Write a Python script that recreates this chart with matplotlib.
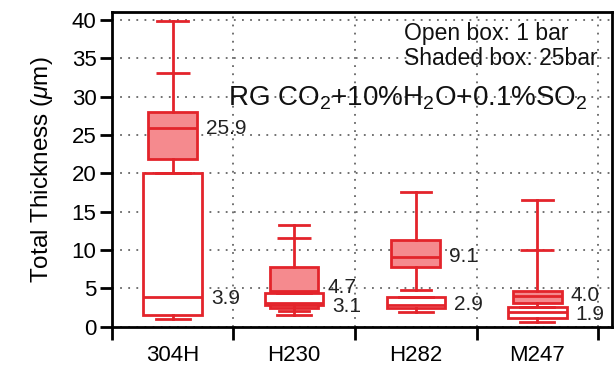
import matplotlib
matplotlib.use('Agg')
import matplotlib.pyplot as plt
import numpy as np

plt.rcParams['font.family'] = ['Liberation Sans', 'DejaVu Sans']
plt.rcParams['mathtext.fontset'] = 'custom'
plt.rcParams['mathtext.rm'] = 'Liberation Sans'
plt.rcParams['mathtext.it'] = 'Liberation Sans:italic'

# Datos
categorias = ['304H', 'H230', 'H282', 'M247']

# caja abierta: 1 bar
abierta_min = [1.0, 1.5, 1.9, 0.6]
abierta_q1 = [1.5, 2.9, 2.4, 1.1]
abierta_med = [3.9, 3.1, 2.9, 1.9]
abierta_q3 = [20.0, 4.35, 3.9, 2.6]
abierta_max = [20.0, 4.35, 3.9, 2.6]

# caja sombreada: 25 bar
somb_min = [20.0, 2.1, 4.8, 2.6]
somb_q1 = [21.8, 2.5, 7.8, 3.1]
somb_med = [25.9, 4.7, 9.1, 4.0]
somb_q3 = [28.0, 7.75, 11.3, 4.7]
somb_max = [39.8, 13.3, 17.6, 16.5]
somb_marca = [[33.0], [11.6], [], [10.0]]

rojo = '#e3242b'
rosa = '#f58a8e'

def stats(lo, q1, med, q3, hi, extra=None):
    out = []
    for i in range(len(lo)):
        out.append({'whislo': lo[i], 'q1': q1[i], 'med': med[i], 'q3': q3[i],
                    'whishi': hi[i], 'fliers': extra[i] if extra else []})
    return out

fig = plt.figure(figsize=(6.14, 3.66), dpi=100)
ax = fig.add_axes([0.182, 0.107, 0.814, 0.860])

pos = np.arange(len(categorias))
lw = 2.0

ax.bxp(stats(somb_min, somb_q1, somb_med, somb_q3, somb_max, somb_marca),
       positions=pos, widths=0.40, capwidths=0.25, patch_artist=True,
       showfliers=True, manage_ticks=False, zorder=3,
       boxprops=dict(facecolor=rosa, edgecolor=rojo, linewidth=lw),
       medianprops=dict(color=rojo, linewidth=lw),
       whiskerprops=dict(color=rojo, linewidth=lw),
       capprops=dict(color=rojo, linewidth=lw),
       flierprops=dict(marker='_', markersize=25, markeredgewidth=lw,
                       markeredgecolor=rojo))

ax.bxp(stats(abierta_min, abierta_q1, abierta_med, abierta_q3, abierta_max),
       positions=pos, widths=0.48, capwidths=0.28, patch_artist=True,
       showfliers=False, manage_ticks=False, zorder=4,
       boxprops=dict(facecolor='white', edgecolor=rojo, linewidth=lw),
       medianprops=dict(color=rojo, linewidth=lw),
       whiskerprops=dict(color=rojo, linewidth=lw),
       capprops=dict(color=rojo, linewidth=lw))

# etiquetas de medianas
desp_somb = [0, 2.5, 0, 0.5]
desp_abierta = [-1, -2.5, 0, -1.5]
for i in range(len(categorias)):
    ax.annotate(f'{somb_med[i]:.1f}', (pos[i] + 0.20, somb_med[i]),
                xytext=(6.5, desp_somb[i]), textcoords='offset points',
                ha='left', va='center', fontsize=15, color='#222222', zorder=6)
    ax.annotate(f'{abierta_med[i]:.1f}', (pos[i] + 0.24, abierta_med[i]),
                xytext=(6.5, desp_abierta[i]), textcoords='offset points',
                ha='left', va='center', fontsize=15, color='#222222', zorder=6)

ax.set_xlim(-0.5, 3.61)
ax.set_ylim(0, 41)
ax.set_yticks(np.arange(0, 41, 5))
ax.set_xticks(pos)
ax.set_xticklabels(categorias)
ax.set_xticks(np.arange(-0.5, 3.6, 1), minor=True)
ax.tick_params(axis='x', which='major', length=0, labelsize=16, pad=13)
ax.tick_params(axis='x', which='minor', length=9, width=2, direction='out')
ax.tick_params(axis='y', which='major', length=9, width=2, direction='out',
               labelsize=16, pad=2)
ax.grid(True, axis='y', which='major', color='#666666', linestyle=(0, (1, 3.5)), lw=1.3)
ax.grid(True, axis='x', which='minor', color='#666666', linestyle=(0, (1, 3.5)), lw=1.3)
ax.set_axisbelow(True)
for s in ax.spines.values():
    s.set_linewidth(2)
    s.set_color('black')

ax.set_ylabel(r'Total Thickness ($\mu$m)', fontsize=17.5, labelpad=12)

ax.text(0.232, 0.704, r'RG CO$_2$+10%H$_2$O+0.1%SO$_2$', transform=ax.transAxes,
        fontsize=20, va='baseline', ha='left', color='#111111')
ax.text(0.585, 0.933, 'Open box: 1 bar', transform=ax.transAxes,
        fontsize=16.5, va='center', ha='left', color='#111111')
ax.text(0.585, 0.854, 'Shaded box: 25bar', transform=ax.transAxes,
        fontsize=16.5, va='center', ha='left', color='#111111')

fig.savefig('out.png', dpi=100)
